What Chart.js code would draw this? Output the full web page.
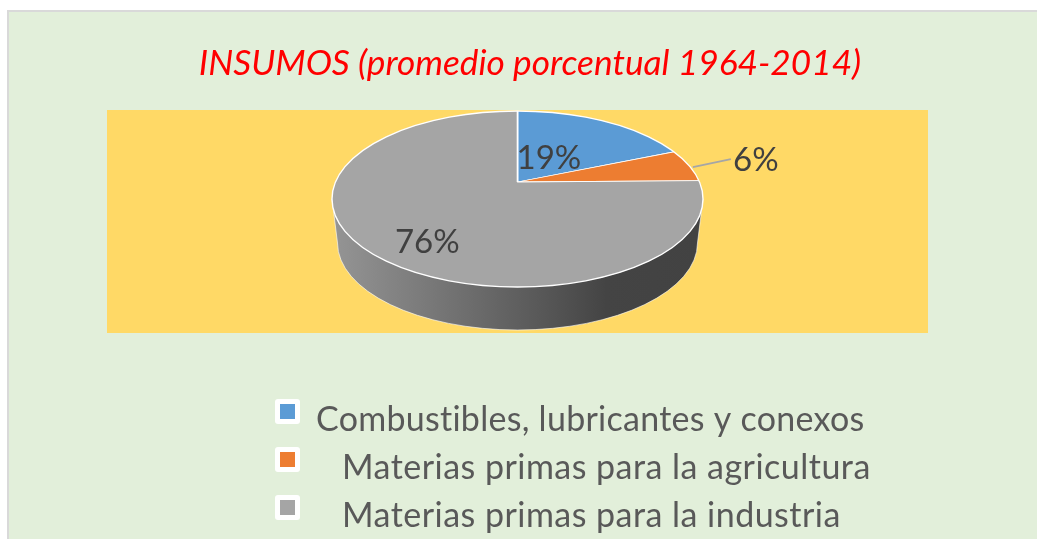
<!DOCTYPE html>
<html>
<head>
<meta charset="utf-8">
<script src="https://cdn.jsdelivr.net/npm/chart.js@4"></script>
<style>
    html, body { margin: 0; padding: 0; background: #fff; overflow: hidden; }
    #frame {
        position: absolute; left: 7px; top: 10px; width: 1030px; height: 529px;
        box-sizing: border-box; border-top: 2px solid #d9d9d9; border-left: 2px solid #d9d9d9;
        background: #e2efda;
    }
    canvas { display: block; }
</style>
</head>
<body>
<div id="frame"><canvas id="chart" width="1028" height="527"></canvas></div>
<script>
var titleText = 'INSUMOS (promedio porcentual 1964-2014)';
var categories = ['Combustibles, lubricantes y conexos', 'Materias primas para la agricultura', 'Materias primas para la industria'];
var values = [19, 6, 76];
var colors = ['#5b9bd5', '#ed7d31', '#a5a5a5'];

var fontName = 'Lato, "Open Sans", sans-serif';

// everything below is in canvas pixels (canvas starts at 9,12 on the page)
var plotBox = { left: 98, top: 98, right: 919, bottom: 321 };
var pie3d = { apexDown: 72, rx: 185.5, ry: 88, centerDrop: 17, sideRx: 180, sideRy: 87, depth: 44, squash: 0.47, reach: 260 };
var labelNudge = [{ x: -2, y: 0 }, { x: 1, y: -5 }, { x: 1, y: 17 }];
var labelRadius = [60, 179, 130];
var legendRows = { boxX: 266, textX: [307, 333, 333], y: [388, 436, 484], boxDrop: 12, spacing: ['0.27px', '0.47px', '0.47px'] };

function project(chart, radius, angle) {
    var a = chart.chartArea;
    return {
        x: (a.left + a.right) / 2 + radius * Math.cos(angle),
        y: a.top + pie3d.apexDown + radius * pie3d.squash * Math.sin(angle)
    };
}

var pieShape = {
    id: 'pieShape',
    afterLayout: function (chart) {
        // plot rectangle and title are not where the default box layout puts them
        chart.chartArea = {
            left: plotBox.left, top: plotBox.top, right: plotBox.right, bottom: plotBox.bottom,
            width: plotBox.right - plotBox.left, height: plotBox.bottom - plotBox.top
        };
        chart.titleBlock.top = 30;
        chart.titleBlock.left = 0;
        chart.titleBlock.right = 1042;
    },
    beforeDatasetsDraw: function (chart) {
        var ctx = chart.ctx, a = chart.chartArea;
        var arc = chart.getDatasetMeta(0).data[0];
        var cx = (a.left + a.right) / 2;
        var apexY = a.top + pie3d.apexDown;
        var cy = apexY + pie3d.centerDrop;
        var sideY = cy + pie3d.depth;

        ctx.fillStyle = '#ffd966';
        ctx.fillRect(a.left, a.top, a.width, a.height);

        // side wall
        var grad = ctx.createLinearGradient(cx - pie3d.rx, 0, cx + pie3d.rx, 0);
        grad.addColorStop(0, '#959595');
        grad.addColorStop(0.5, '#5f5f5f');
        grad.addColorStop(0.74, '#444444');
        grad.addColorStop(1, '#424242');
        ctx.beginPath();
        ctx.moveTo(cx - pie3d.rx, cy);
        ctx.lineTo(cx - pie3d.sideRx, sideY);
        ctx.ellipse(cx, sideY, pie3d.sideRx, pie3d.sideRy, 0, Math.PI, 0, true);
        ctx.lineTo(cx + pie3d.rx, cy);
        ctx.closePath();
        ctx.fillStyle = grad;
        ctx.fill();
        ctx.strokeStyle = 'rgba(255,255,255,0.6)';
        ctx.lineWidth = 1;
        ctx.stroke();

        // library arcs, stretched past the rim and cut by the ellipse
        ctx.save();
        ctx.beginPath();
        ctx.ellipse(cx, cy, pie3d.rx, pie3d.ry, 0, 0, Math.PI * 2);
        ctx.clip();
        var s = pie3d.reach / arc.outerRadius;
        ctx.translate(cx, apexY);
        ctx.scale(s, s * pie3d.squash);
        ctx.translate(-arc.x, -arc.y);
    },
    afterDatasetsDraw: function (chart) {
        var ctx = chart.ctx, a = chart.chartArea;
        var meta = chart.getDatasetMeta(0);
        var cx = (a.left + a.right) / 2;
        var cy = a.top + pie3d.apexDown + pie3d.centerDrop;
        ctx.restore();

        ctx.beginPath();
        ctx.ellipse(cx, cy, pie3d.rx, pie3d.ry, 0, 0, Math.PI * 2);
        ctx.strokeStyle = '#ffffff';
        ctx.lineWidth = 1.4;
        ctx.stroke();

        // percent labels
        ctx.font = '33px ' + fontName;
        ctx.fillStyle = '#404040';
        ctx.textAlign = 'center';
        ctx.textBaseline = 'middle';
        values.forEach(function (v, i) {
            var arc = meta.data[i];
            var mid = (arc.startAngle + arc.endAngle) / 2;
            var p = project(chart, labelRadius[i], mid);
            if (i === 1) {
                // leader line out to the small slice's label
                ctx.beginPath();
                ctx.moveTo(p.x, p.y + 2);
                ctx.lineTo(p.x + 38, p.y - 6);
                ctx.strokeStyle = '#a6a6a6';
                ctx.lineWidth = 2;
                ctx.stroke();
                p.x += 62;
            }
            ctx.fillText(v + '%', p.x + labelNudge[i].x, p.y + labelNudge[i].y);
        });

        // legend rows, each with its own indent
        ctx.font = '34px ' + fontName;
        ctx.textAlign = 'left';
        categories.forEach(function (name, i) {
            var y = legendRows.y[i];
            ctx.beginPath();
            ctx.roundRect(legendRows.boxX, y + legendRows.boxDrop - 13, 25, 25, 3);
            ctx.fillStyle = '#ffffff';
            ctx.fill();
            ctx.fillStyle = colors[i];
            ctx.fillRect(legendRows.boxX + 5, y + legendRows.boxDrop - 8, 15, 15);
            ctx.fillStyle = '#595959';
            ctx.letterSpacing = legendRows.spacing[i];
            ctx.fillText(name, legendRows.textX[i], y + 20);
        });
        ctx.letterSpacing = '0px';
    }
};

var ctx = document.querySelector('#chart').getContext('2d');
var insumosChart = new Chart(ctx, {
    type: 'pie',
    data: {
        labels: categories,
        datasets: [{
            data: values,
            backgroundColor: colors,
            borderColor: '#ffffff',
            borderWidth: 0.7,
            clip: false
        }]
    },
    options: {
        responsive: false,
        animation: false,
        events: [],
        plugins: {
            legend: { display: false },
            tooltip: { enabled: false },
            title: {
                display: true,
                text: titleText,
                color: '#ff0000',
                font: { family: fontName, size: 35.25, style: 'italic', weight: 'normal' },
                padding: 0
            }
        }
    },
    plugins: [pieShape]
});
</script>
</body>
</html>
